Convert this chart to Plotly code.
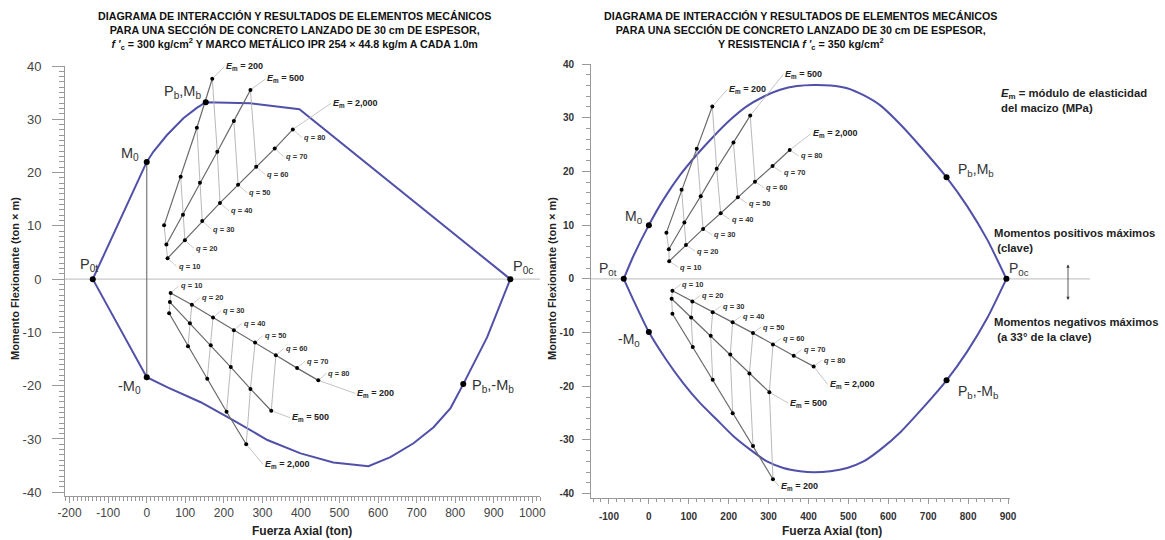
import plotly.graph_objects as go

FONT = "Liberation Sans, Arial, Helvetica, sans-serif"

# ---------------- data ----------------
Q_VALUES = [10, 20, 30, 40, 50, 60, 70, 80]
EM_VALUES = [200, 500, 2000]

# Left chart (f'c = 300, IPR 254 x 44.8)
L_ENV_UP_P = [-140, 0, 17, 52, 95, 129, 153, 268, 396, 943]
L_ENV_UP_M = [0, 22.0, 23.9, 27.0, 30.2, 32.1, 33.2, 33.0, 31.9, 0]
L_ENV_LO_P = [-140, 0, 54, 140, 225, 313, 399, 484, 575, 632, 692, 744, 788, 821, 883, 943]
L_ENV_LO_M = [0, -18.4, -20.3, -23.1, -26.5, -30.2, -32.7, -34.4, -35.1, -33.4, -30.8, -27.8, -24.2, -19.7, -10.9, 0]
L_KEY_P = [-140, 0, 153, 943, 0, 821]
L_KEY_M = [0, 22.0, 33.2, 0, -18.4, -19.7]

LU_200_P = [45, 88, 130, 170]
LU_200_M = [10.1, 19.2, 28.4, 37.6]
LU_500_P = [51, 94, 138, 183, 226, 269]
LU_500_M = [6.5, 12.1, 18.1, 23.9, 29.7, 35.5]
LU_2000_P = [54, 99, 144, 190, 237, 284, 332, 379]
LU_2000_M = [3.9, 7.3, 10.9, 14.3, 17.7, 21.1, 24.5, 28.1]

LL_200_P = [62, 117, 172, 226, 281, 335, 390, 445]
LL_200_M = [-2.6, -4.8, -7.2, -9.6, -11.9, -14.3, -16.7, -19.0]
LL_500_P = [60, 112, 166, 218, 269, 323]
LL_500_M = [-4.3, -8.3, -12.4, -16.5, -20.6, -24.7]
LL_2000_P = [58, 107, 157, 207, 258]
LL_2000_M = [-6.4, -12.6, -18.7, -24.9, -31.0]

# Right chart (f'c = 350)
R_ENV_UP_P = [-63, -39, 0, 36, 78, 120, 162, 204, 245, 287, 329, 371, 413, 455, 497, 538, 580, 631, 681, 746, 798, 848, 896]
R_ENV_UP_M = [0, 4.2, 10.0, 14.7, 19.3, 23.1, 26.5, 29.6, 32.1, 33.9, 35.2, 35.9, 36.1, 36.0, 35.5, 34.2, 32.3, 28.7, 24.6, 18.9, 13.5, 7.3, 0]
R_ENV_LO_P = [-63, -39, 0, 44, 86, 128, 170, 212, 254, 296, 337, 379, 413, 455, 497, 538, 580, 631, 681, 746, 798, 848, 896]
R_ENV_LO_M = [0, -3.9, -9.9, -15.1, -19.4, -23.1, -26.2, -29.3, -31.8, -34.0, -35.2, -35.8, -36.0, -35.8, -35.2, -34.0, -31.8, -28.5, -24.5, -18.9, -13.5, -7.3, 0]
R_KEY_P = [-63, 0, 746, 896, 0, 746]
R_KEY_M = [0, 10.0, 18.9, 0, -9.9, -18.9]

RU_200_P = [44, 82, 120, 159]
RU_200_M = [8.6, 16.6, 24.2, 32.1]
RU_500_P = [50, 89, 130, 170, 212, 254]
RU_500_M = [5.5, 10.5, 15.4, 20.5, 25.4, 30.4]
RU_2000_P = [51, 93, 136, 180, 223, 266, 310, 353]
RU_2000_M = [3.3, 6.3, 9.3, 12.2, 15.2, 18.1, 21.0, 24.0]

RL_200_P = [59, 110, 160, 210, 261, 311]
RL_200_M = [-6.5, -12.7, -18.8, -25.0, -31.1, -37.3]
RL_500_P = [57, 106, 155, 204, 252, 302]
RL_500_M = [-3.7, -7.2, -10.6, -14.1, -17.6, -21.1]
RL_2000_P = [59, 109, 160, 210, 261, 311, 363, 413]
RL_2000_M = [-2.2, -4.2, -6.2, -8.1, -10.1, -12.2, -14.3, -16.3]

KEY_NAMES = ["P<sub>0t</sub>", "M<sub>0</sub>", "P<sub>b</sub>,M<sub>b</sub>",
             "P<sub>0c</sub>", "-M<sub>0</sub>", "P<sub>b</sub>,-M<sub>b</sub>"]

L_XTICKS = [-200, -100, 0, 100, 200, 300, 400, 500, 600, 700, 800, 900, 1000]
R_XTICKS = [-100, 0, 100, 200, 300, 400, 500, 600, 700, 800, 900]
YTICKS = [-40, -30, -20, -10, 0, 10, 20, 30, 40]

TITLE_L = ("DIAGRAMA DE INTERACCIÓN Y RESULTADOS DE ELEMENTOS MECÁNICOS<br>"
           "PARA UNA SECCIÓN DE CONCRETO LANZADO DE 30 cm DE ESPESOR,<br>"
           "<i>f '</i><sub>c</sub> = 300 kg/cm<sup>2</sup> Y MARCO METÁLICO IPR 254 × 44.8 kg/m A CADA 1.0m")
TITLE_R = ("DIAGRAMA DE INTERACCIÓN Y RESULTADOS DE ELEMENTOS MECÁNICOS<br>"
           "PARA UNA SECCIÓN DE CONCRETO LANZADO DE 30 cm DE ESPESOR,<br>"
           "Y RESISTENCIA <i>f '</i><sub>c</sub> = 350 kg/cm<sup>2</sup>")

# ---------------- styles ----------------
ENV_COLOR = "#5050a8"
EM_LINE = "#6a6a6a"
CONN_LINE = "#b0b0b0"
LEAD = "#b5b5b5"
AX_COLOR = "#999999"

fig = go.Figure()
annotations = []
shapes = []


def add_group(series, xa, ya, qlabel_em, q_off, em_offs, q_font=7.5):
    # connectors between same q across E_m series
    cx, cy = [], []
    for i in range(len(Q_VALUES)):
        pts = [(P[i], M[i]) for (P, M) in series.values() if len(P) > i]
        if len(pts) >= 2:
            cx += [p[0] for p in pts] + [None]
            cy += [p[1] for p in pts] + [None]
    fig.add_trace(go.Scatter(x=cx, y=cy, mode="lines", xaxis=xa, yaxis=ya,
                             line=dict(color=CONN_LINE, width=0.9), hoverinfo="skip", showlegend=False))
    for em, (P, M) in series.items():
        fig.add_trace(go.Scatter(x=P, y=M, mode="lines+markers", xaxis=xa, yaxis=ya,
                                 line=dict(color=EM_LINE, width=1.2),
                                 marker=dict(color="black", size=4),
                                 showlegend=False, name=f"Em={em}"))
        ax, ay = em_offs[em]
        annotations.append(dict(
            x=P[-1], y=M[-1], xref=xa, yref=ya, showarrow=True, arrowhead=0,
            arrowwidth=0.8, arrowcolor=LEAD, ax=ax, ay=ay, xanchor="left", yanchor="middle",
            standoff=2, text=f"<b><i>E</i><sub>m</sub> = {em:,}</b>",
            font=dict(family=FONT, size=9, color="#222")))
    P, M = series[qlabel_em]
    for i, q in enumerate(Q_VALUES[:len(P)]):
        annotations.append(dict(
            x=P[i], y=M[i], xref=xa, yref=ya, showarrow=True, arrowhead=0,
            arrowwidth=0.7, arrowcolor=LEAD, ax=q_off[0], ay=q_off[1], xanchor="left",
            yanchor="middle", standoff=2, text=f"<b><i>q</i> = {q}</b>",
            font=dict(family=FONT, size=q_font, color="#333")))


def add_envelope(up_p, up_m, lo_p, lo_m, xa, ya, shape):
    for P, M in ((up_p, up_m), (lo_p, lo_m)):
        fig.add_trace(go.Scatter(x=P, y=M, mode="lines", xaxis=xa, yaxis=ya,
                                 line=dict(color=ENV_COLOR, width=2, shape=shape, smoothing=0.6),
                                 hoverinfo="skip", showlegend=False))


def add_keys(P, M, xa, ya, offsets, size):
    fig.add_trace(go.Scatter(x=P, y=M, mode="markers", xaxis=xa, yaxis=ya,
                             marker=dict(color="black", size=6), showlegend=False))
    for i, name in enumerate(KEY_NAMES):
        xs, ys, anc = offsets[i]
        annotations.append(dict(x=P[i], y=M[i], xref=xa, yref=ya, showarrow=False,
                                xshift=xs, yshift=ys, xanchor=anc, yanchor="middle", text=name,
                                font=dict(family=FONT, size=size, color="#333")))


# zero lines
shapes.append(dict(type="line", xref="x domain", yref="y", x0=0, x1=1, y0=0, y1=0,
                   line=dict(color="#c8c8c8", width=1.2), layer="below"))
shapes.append(dict(type="line", xref="paper", yref="y2", x0=591 / 1165, x1=1090 / 1165, y0=0, y1=0,
                   line=dict(color="#c8c8c8", width=1.2), layer="below"))

# left: vertical line from M0 to -M0
fig.add_trace(go.Scatter(x=[L_KEY_P[1], L_KEY_P[4]], y=[L_KEY_M[1], L_KEY_M[4]], mode="lines",
                         xaxis="x", yaxis="y", line=dict(color="#777", width=1.2),
                         hoverinfo="skip", showlegend=False))

add_envelope(L_ENV_UP_P, L_ENV_UP_M, L_ENV_LO_P, L_ENV_LO_M, "x", "y", "linear")
add_envelope(R_ENV_UP_P, R_ENV_UP_M, R_ENV_LO_P, R_ENV_LO_M, "x2", "y2", "spline")

add_group({200: (LU_200_P, LU_200_M), 500: (LU_500_P, LU_500_M), 2000: (LU_2000_P, LU_2000_M)},
          "x", "y", 2000, (9, 8), {200: (12, -12), 500: (15, -11), 2000: (38, -26)})
add_group({200: (LL_200_P, LL_200_M), 500: (LL_500_P, LL_500_M), 2000: (LL_2000_P, LL_2000_M)},
          "x", "y", 200, (8, -7), {200: (37, 13), 500: (19, 7), 2000: (17, 20)})
add_group({200: (RU_200_P, RU_200_M), 500: (RU_500_P, RU_500_M), 2000: (RU_2000_P, RU_2000_M)},
          "x2", "y2", 2000, (9, 6), {200: (15, -17), 500: (33, -41), 2000: (21, -16)})
add_group({200: (RL_200_P, RL_200_M), 500: (RL_500_P, RL_500_M), 2000: (RL_2000_P, RL_2000_M)},
          "x2", "y2", 2000, (8, -6), {200: (6, 7), 500: (19, 11), 2000: (14, 18)})

add_keys(L_KEY_P, L_KEY_M, "x", "y",
         [(-4, 14, "center"), (-6, 8, "right"), (-3, 10, "right"), (1, 12, "left"),
          (-4, -10, "right"), (7, -2, "left")], 14.5)
add_keys(R_KEY_P, R_KEY_M, "x2", "y2",
         [(-5, 10, "right"), (-4, 8, "right"), (9, 7, "left"), (1, 10, "left"),
          (-7, -8, "right"), (9, -12, "left")], 14)

# titles
annotations.append(dict(xref="paper", yref="paper", x=294 / 1165, y=1 - 8 / 540, xanchor="center",
                        yanchor="top", showarrow=False, text=f"<b>{TITLE_L}</b>",
                        font=dict(family=FONT, size=10.7, color="#111")))
annotations.append(dict(xref="paper", yref="paper", x=800 / 1165, y=1 - 8 / 540, xanchor="center",
                        yanchor="top", showarrow=False, text=f"<b>{TITLE_R}</b>",
                        font=dict(family=FONT, size=10.7, color="#111")))
# axis titles
for xc in (15, 552):
    annotations.append(dict(xref="paper", yref="paper", x=xc / 1165, y=1 - 279 / 540, textangle=-90,
                            xanchor="center", yanchor="middle",
                            showarrow=False, text="<b>Momento Flexionante (ton × m)</b>",
                            font=dict(family=FONT, size=11, color="#222")))
for xc in (302, 832):
    annotations.append(dict(xref="paper", yref="paper", x=xc / 1165, y=1 - 531 / 540,
                            xanchor="center", yanchor="middle",
                            showarrow=False, text="<b>Fuerza Axial (ton)</b>",
                            font=dict(family=FONT, size=12, color="#222")))
# right notes
annotations.append(dict(xref="paper", yref="paper", x=999 / 1165, y=1 - 101 / 540, xanchor="left",
                        yanchor="middle", align="left", showarrow=False,
                        text="<b><i>E</i><sub>m</sub> = módulo de elasticidad<br>del macizo (MPa)</b>",
                        font=dict(family=FONT, size=11.3, color="#222")))
annotations.append(dict(xref="paper", yref="paper", x=992 / 1165, y=1 - 240 / 540, xanchor="left",
                        yanchor="middle", align="left", showarrow=False,
                        text="<b>Momentos positivos máximos<br> (clave)</b>",
                        font=dict(family=FONT, size=11.3, color="#222")))
annotations.append(dict(xref="paper", yref="paper", x=992 / 1165, y=1 - 329 / 540, xanchor="left",
                        yanchor="middle", align="left", showarrow=False,
                        text="<b>Momentos negativos máximos<br> (a 33° de la clave)</b>",
                        font=dict(family=FONT, size=11.3, color="#222")))
annotations.append(dict(xref="paper", yref="paper", x=1068 / 1165, y=1 - 300 / 540,
                        ax=0, ay=-44, axref="pixel", ayref="pixel", showarrow=True,
                        arrowhead=2, startarrowhead=2, arrowside="end+start", arrowsize=0.8,
                        arrowwidth=0.8, arrowcolor="#333", text=" "))

common_axis = dict(showline=True, linecolor=AX_COLOR, linewidth=1, ticks="outside",
                   tickcolor=AX_COLOR, zeroline=False, showgrid=False, mirror=False,
                   automargin=False)

fig.update_layout(
    width=1165, height=540, margin=dict(l=0, r=0, t=0, b=0, pad=0, autoexpand=False),
    paper_bgcolor="white", plot_bgcolor="white", showlegend=False,
    font=dict(family=FONT),
    xaxis=dict(domain=[65 / 1165, 540 / 1165], range=[-212, 1020], anchor="y",
               tickmode="array", tickvals=L_XTICKS, ticktext=[str(v) for v in L_XTICKS],
               ticklen=6, tickfont=dict(family=FONT, size=12, color="#444"),
               minor=dict(dtick=10, tick0=0, ticks="outside", ticklen=4, tickcolor=AX_COLOR),
               **common_axis),
    yaxis=dict(domain=[1 - 496 / 540, 1 - 66 / 540], range=[-40.7, 40], anchor="x",
               tickmode="array", tickvals=YTICKS, ticktext=[str(v) for v in YTICKS],
               ticklen=12, ticklabelstandoff=8, tickfont=dict(family=FONT, size=13, color="#444"),
               minor=dict(dtick=1, tick0=0, ticks="outside", ticklen=5, tickcolor=AX_COLOR),
               **common_axis),
    xaxis2=dict(domain=[591 / 1165, 1010 / 1165], range=[-145, 905], anchor="y2",
                tickmode="array", tickvals=R_XTICKS, ticktext=[str(v) for v in R_XTICKS],
                ticklen=5, ticklabelstandoff=4, tickfont=dict(family=FONT, size=10, color="#333", weight="bold"),
                minor=dict(dtick=20, tick0=0, ticks="outside", ticklen=3, tickcolor=AX_COLOR),
                **common_axis),
    yaxis2=dict(domain=[1 - 498 / 540, 1 - 64 / 540], range=[-40.8, 40], anchor="x2",
                tickmode="array", tickvals=YTICKS, ticktext=[str(v) for v in YTICKS],
                ticklen=8, ticklabelstandoff=6, tickfont=dict(family=FONT, size=10, color="#333", weight="bold"),
                minor=dict(dtick=2, tick0=0, ticks="outside", ticklen=4, tickcolor=AX_COLOR),
                **common_axis),
    annotations=annotations, shapes=shapes,
)

fig.write_html("out.html", config={"displayModeBar": False},
               post_script="document.body.style.margin='0px';")
